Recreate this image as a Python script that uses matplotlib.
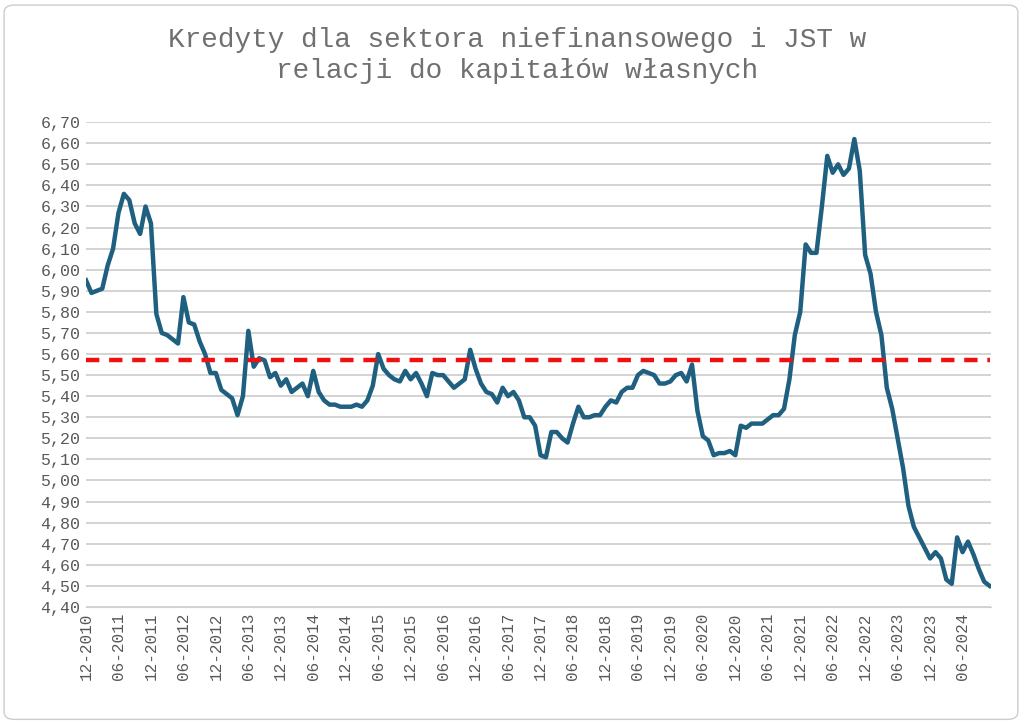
import matplotlib.pyplot as plt
from matplotlib.patches import FancyBboxPatch

# monthly values, 12-2010 .. 11-2024
values = [
    5.95,
    5.89, 5.90, 5.91, 6.02, 6.10, 6.27, 6.36, 6.33, 6.22, 6.17, 6.30, 6.22,
    5.79, 5.70, 5.69, 5.67, 5.65, 5.87, 5.75, 5.74, 5.66, 5.60, 5.51, 5.51,
    5.43, 5.41, 5.39, 5.31, 5.40, 5.71, 5.54, 5.58, 5.57, 5.49, 5.51, 5.45,
    5.48, 5.42, 5.44, 5.46, 5.40, 5.52, 5.42, 5.38, 5.36, 5.36, 5.35, 5.35,
    5.35, 5.36, 5.35, 5.38, 5.45, 5.60, 5.53, 5.50, 5.48, 5.47, 5.52, 5.48,
    5.51, 5.46, 5.40, 5.51, 5.50, 5.50, 5.47, 5.44, 5.46, 5.48, 5.62, 5.53,
    5.46, 5.42, 5.41, 5.37, 5.44, 5.40, 5.42, 5.38, 5.30, 5.30, 5.26, 5.12,
    5.11, 5.23, 5.23, 5.20, 5.18, 5.27, 5.35, 5.30, 5.30, 5.31, 5.31, 5.35,
    5.38, 5.37, 5.42, 5.44, 5.44, 5.50, 5.52, 5.51, 5.50, 5.46, 5.46, 5.47,
    5.50, 5.51, 5.47, 5.55, 5.33, 5.21, 5.19, 5.12, 5.13, 5.13, 5.14, 5.12,
    5.26, 5.25, 5.27, 5.27, 5.27, 5.29, 5.31, 5.31, 5.34, 5.48, 5.69, 5.80,
    6.12, 6.08, 6.08, 6.30, 6.54, 6.46, 6.50, 6.45, 6.48, 6.62, 6.47, 6.07,
    5.98, 5.80, 5.69, 5.44, 5.34, 5.20, 5.06, 4.88, 4.78, 4.73, 4.68, 4.63,
    4.66, 4.63, 4.53, 4.51, 4.73, 4.66, 4.71, 4.65, 4.58, 4.52, 4.50,
]
mean_level = 5.57

# tick labels every 6 months
tick_labels = []
for year in range(2010, 2025):
    for month in (6, 12):
        if (year, month) >= (2010, 12) and (year, month) <= (2024, 6):
            tick_labels.append(f"{month:02d}-{year}")
tick_pos = [i * 6 for i in range(len(tick_labels))]

plt.rcParams['font.family'] = 'Liberation Mono'

fig = plt.figure(figsize=(10.24, 7.23), dpi=100)
ax = fig.add_axes([0.084, 0.1605, 0.884, 0.6705])

x = list(range(len(values)))
ax.plot(x, values, color='#1f5f7f', linewidth=3.2, solid_joinstyle='round')
ax.plot([0, len(values) - 1], [mean_level, mean_level], color='#ee1111',
        linewidth=3.2, linestyle=(0, (3, 2.2)))

ax.set_xlim(0, 167.3)
ax.set_ylim(4.4, 6.7)
yt = [4.4 + 0.1 * i for i in range(24)]
ax.set_yticks(yt)
ax.set_yticklabels([f"{v:.2f}".replace('.', ',') for v in yt], fontsize=12, color='#595959')
ax.set_xticks(tick_pos)
ax.set_xticklabels(tick_labels, rotation=90, fontsize=11.5, color='#595959')
ax.tick_params(length=0, pad=4)
ax.yaxis.grid(True, color='#d0d0d0', linewidth=1.3)
ax.set_axisbelow(True)
for side in ('top', 'right', 'left'):
    ax.spines[side].set_visible(False)
ax.spines['bottom'].set_color('#d0d0d0')

fig.suptitle('Kredyty dla sektora niefinansowego i JST w\nrelacji do kapitałów własnych',
             x=0.505, y=0.962, fontsize=20, color='#707070', linespacing=1.25)

border = FancyBboxPatch((0.004, 0.005), 0.99, 0.988, boxstyle='round,pad=0,rounding_size=0.01',
                        transform=fig.transFigure, fill=False, edgecolor='#cccccc', linewidth=1)
fig.patches.append(border)

fig.savefig('out.png')
